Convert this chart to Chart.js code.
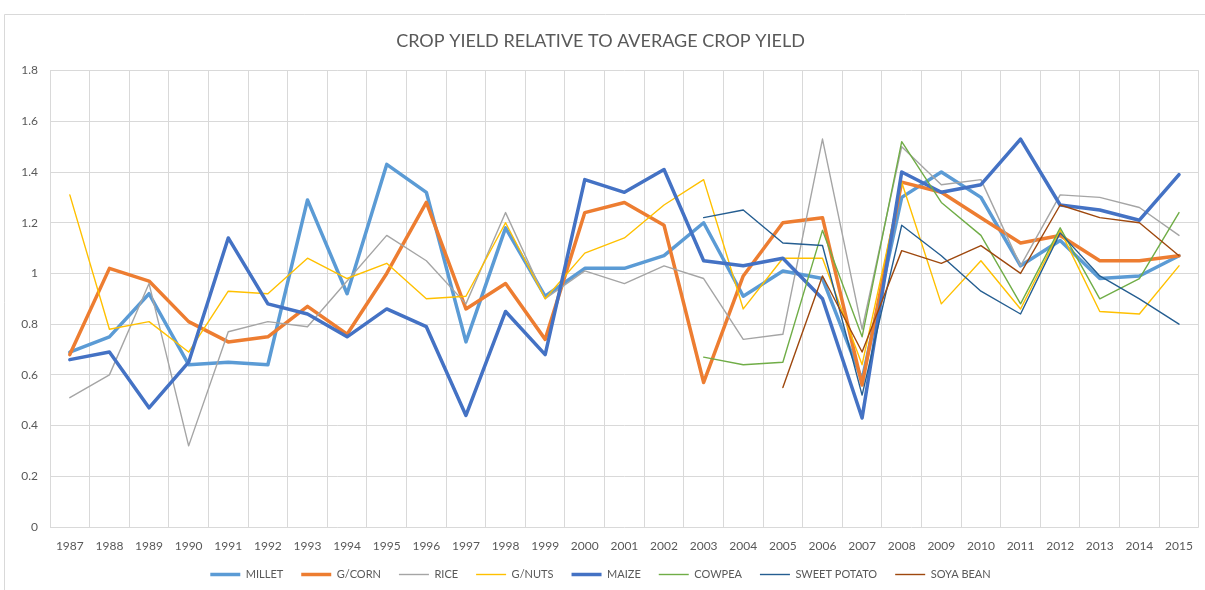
<!DOCTYPE html>
<html>
<head>
<meta charset="utf-8">
<script src="https://cdn.jsdelivr.net/npm/chart.js@4.4.1/dist/chart.umd.min.js"></script>
<style>
  html, body { margin: 0; padding: 0; background: #ffffff; }
  #wrap { position: absolute; left: 0; top: 0; width: 1205px; height: 590px; }
</style>
</head>
<body>
<div id="wrap"><canvas id="c" width="1205" height="590"></canvas></div>
<script>
const years = ['1987','1988','1989','1990','1991','1992','1993','1994','1995','1996','1997','1998','1999','2000','2001','2002','2003','2004','2005','2006','2007','2008','2009','2010','2011','2012','2013','2014','2015'];
const yTicks = [0, 0.2, 0.4, 0.6, 0.8, 1, 1.2, 1.4, 1.6, 1.8];

const millet = [0.69,0.75,0.92,0.64,0.65,0.64,1.29,0.92,1.43,1.32,0.73,1.18,0.91,1.02,1.02,1.07,1.20,0.91,1.01,0.98,0.58,1.30,1.40,1.30,1.03,1.13,0.98,0.99,1.07];
const gcorn = [0.68,1.02,0.97,0.81,0.73,0.75,0.87,0.76,1.00,1.28,0.86,0.96,0.74,1.24,1.28,1.19,0.57,0.99,1.20,1.22,0.56,1.36,1.32,1.22,1.12,1.15,1.05,1.05,1.07];
const rice = [0.51,0.60,0.96,0.32,0.77,0.81,0.79,0.97,1.15,1.05,0.88,1.24,0.90,1.01,0.96,1.03,0.98,0.74,0.76,1.53,0.78,1.50,1.35,1.37,1.03,1.31,1.30,1.26,1.15];
const gnuts = [1.31,0.78,0.81,0.69,0.93,0.92,1.06,0.98,1.04,0.90,0.91,1.20,0.90,1.08,1.14,1.27,1.37,0.86,1.06,1.06,0.64,1.36,0.88,1.05,0.86,1.17,0.85,0.84,1.03];
const maize = [0.66,0.69,0.47,0.65,1.14,0.88,0.84,0.75,0.86,0.79,0.44,0.85,0.68,1.37,1.32,1.41,1.05,1.03,1.06,0.90,0.43,1.40,1.32,1.35,1.53,1.27,1.25,1.21,1.39];
const cowpea = [null,null,null,null,null,null,null,null,null,null,null,null,null,null,null,null,0.67,0.64,0.65,1.17,0.75,1.52,1.28,1.15,0.88,1.18,0.90,0.98,1.24];
const sweetPotato = [null,null,null,null,null,null,null,null,null,null,null,null,null,null,null,null,1.22,1.25,1.12,1.11,0.52,1.19,1.07,0.93,0.84,1.16,0.99,0.90,0.80];
const soyaBean = [null,null,null,null,null,null,null,null,null,null,null,null,null,null,null,null,null,null,0.55,0.99,0.69,1.09,1.04,1.11,1.00,1.27,1.22,1.20,1.07];

const seriesNames = ['MILLET','G/CORN','RICE','G/NUTS','MAIZE','COWPEA','SWEET POTATO','SOYA BEAN'];
const seriesData = [millet, gcorn, rice, gnuts, maize, cowpea, sweetPotato, soyaBean];
const seriesColors = ['#5B9BD5','#ED7D31','#A5A5A5','#FFC000','#4472C4','#70AD47','#255E91','#9E480E'];
const seriesWidths = [3.5, 3.5, 1.4, 1.4, 3.5, 1.4, 1.4, 1.4];

const FONT = 'Lato, "Open Sans", sans-serif';
const TXT = '#595959';

const frame = {
  id: 'frame',
  beforeDraw(chart) {
    const ctx = chart.ctx;
    ctx.save();
    ctx.fillStyle = '#ffffff';
    ctx.fillRect(0, 0, chart.width, chart.height);
    ctx.strokeStyle = '#d9d9d9';
    ctx.lineWidth = 1;
    ctx.beginPath();
    ctx.moveTo(4.5, 600);
    ctx.lineTo(4.5, 14.5);
    ctx.lineTo(1210, 14.5);
    ctx.stroke();
    ctx.restore();
  }
};

new Chart(document.getElementById('c'), {
  type: 'line',
  data: {
    labels: years,
    datasets: seriesNames.map((n, i) => ({
      label: n,
      data: seriesData[i],
      borderColor: seriesColors[i],
      backgroundColor: seriesColors[i],
      borderWidth: seriesWidths[i],
      pointRadius: 0,
      pointHoverRadius: 0,
      tension: 0,
      fill: false,
      spanGaps: false,
      borderJoinStyle: 'round',
      borderCapStyle: 'round',
      order: -i
    }))
  },
  options: {
    responsive: false,
    animation: false,
    events: [],
    layout: { padding: { left: 0, right: 4, top: 0, bottom: 0 } },
    plugins: {
      title: {
        display: true,
        text: 'CROP YIELD RELATIVE TO AVERAGE CROP YIELD',
        color: TXT,
        font: { family: FONT, size: 18, weight: 'normal' },
        padding: { top: 30, bottom: 19 }
      },
      legend: {
        position: 'bottom',
        labels: {
          usePointStyle: true,
          pointStyle: 'line',
          pointStyleWidth: 30,
          color: TXT,
          font: { family: FONT, size: 11 },
          padding: 18,
          sort: (a, b) => a.datasetIndex - b.datasetIndex
        }
      },
      tooltip: { enabled: false }
    },
    scales: {
      x: {
        offset: true,
        grid: { color: '#d9d9d9', offset: true, drawTicks: false, lineWidth: 1 },
        border: { display: false },
        ticks: { color: TXT, font: { family: FONT, size: 12 }, padding: 12, maxRotation: 0, autoSkip: false },
        afterFit(scale) { scale.height = 24; }
      },
      y: {
        min: 0,
        max: 1.8,
        afterBuildTicks(scale) { scale.ticks = yTicks.map(v => ({ value: v })); },
        grid: { color: '#d9d9d9', drawTicks: false, lineWidth: 1 },
        border: { display: false },
        ticks: { color: TXT, font: { family: FONT, size: 12 }, padding: 12,
          callback: (v) => String(Math.round(v * 10) / 10) },
        afterFit(scale) { scale.width = 50; }
      }
    }
  },
  plugins: [frame]
});
</script>
</body>
</html>
